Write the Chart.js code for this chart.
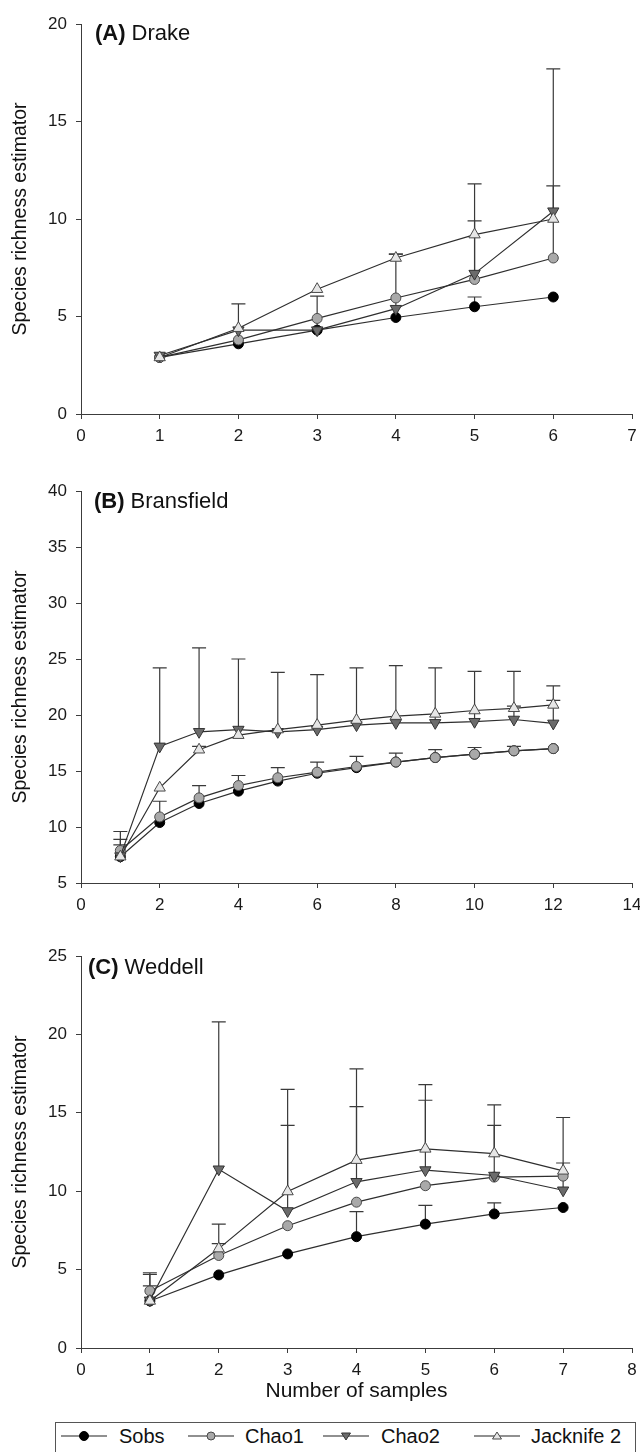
<!DOCTYPE html>
<html>
<head>
<meta charset="utf-8">
<script src="https://cdn.jsdelivr.net/npm/chart.js@4.4.1/dist/chart.umd.min.js"></script>
<style>
  html, body { margin: 0; padding: 0; background: #fff; width: 640px; height: 1452px; overflow: hidden;
    font-family: "Liberation Sans", Arial, sans-serif; color: #111; }
  canvas { position: absolute; left: 0; }
  .tag { position: absolute; font-size: 22px; line-height: 26px; white-space: nowrap; }
  .tag b { margin-right: 6px; }
  #legend { position: absolute; left: 55px; top: 1422px; width: 579px; height: 40px; border: 1px solid #555; }
  .lg-mark { position: absolute; }
  .lg-text { position: absolute; font-size: 20px; line-height: 24px; white-space: nowrap; }
</style>
</head>
<body>
<canvas id="chartA" width="640" height="454" style="top:0px"></canvas>
<canvas id="chartB" width="640" height="456" style="top:467px"></canvas>
<canvas id="chartC" width="640" height="478" style="top:932px"></canvas>
<div class="tag" style="left:95px;top:20px"><b>(A)</b>Drake</div>
<div class="tag" style="left:94px;top:488px"><b>(B)</b>Bransfield</div>
<div class="tag" style="left:88px;top:954px"><b>(C)</b>Weddell</div>
<div id="legend"></div>

<script>
const seriesNames = ["Sobs", "Chao1", "Chao2", "Jacknife 2"];

// (A) Drake
const samplesA = [1, 2, 3, 4, 5, 6];
const sobsA  = [2.9, 3.6, 4.3, 4.95, 5.5, 6.0];
const chao1A = [2.9, 3.8, 4.9, 5.95, 6.9, 8.0];
const chao2A = [3.0, 4.3, 4.3, 5.4, 7.2, 10.4];
const jack2A = [2.9, 4.4, 6.4, 8.0, 9.2, 10.0];
const sobsErrA  = [null, null, null, null, 6.0, null];
const chao1ErrA = [null, null, null, null, 9.9, 11.7];
const chao2ErrA = [null, null, 6.05, 8.2, 11.8, 17.7];
const jack2ErrA = [null, 5.65, null, 8.2, null, null];

// (B) Bransfield
const samplesB = [1, 2, 3, 4, 5, 6, 7, 8, 9, 10, 11, 12];
const sobsB  = [7.35, 10.4, 12.1, 13.2, 14.1, 14.8, 15.3, 15.8, 16.2, 16.5, 16.8, 17.0];
const chao1B = [7.9, 10.9, 12.6, 13.7, 14.4, 14.9, 15.4, 15.8, 16.2, 16.5, 16.8, 17.0];
const chao2B = [7.4, 17.2, 18.5, 18.7, 18.5, 18.7, 19.1, 19.3, 19.3, 19.4, 19.6, 19.25];
const jack2B = [7.35, 13.5, 16.9, 18.2, 18.7, 19.1, 19.55, 19.9, 20.1, 20.4, 20.6, 20.9];
const sobsErrB  = [null, null, null, null, null, null, null, null, null, null, null, null];
const chao1ErrB = [8.9, 12.3, 13.7, 14.6, 15.3, 15.8, 16.3, 16.6, 16.9, 17.1, 17.2, null];
const chao2ErrB = [9.6, 24.2, 26.0, 25.0, 23.8, 23.6, 24.2, 24.4, 24.2, 23.9, 23.9, 22.6];
const jack2ErrB = [8.4, null, 17.2, null, null, null, null, null, null, null, 20.8, 21.3];

// (C) Weddell
const samplesC = [1, 2, 3, 4, 5, 6, 7];
const sobsC  = [3.0, 4.66, 6.0, 7.1, 7.9, 8.55, 8.96];
const chao1C = [3.64, 5.9, 7.8, 9.3, 10.35, 10.9, 10.96];
const chao2C = [3.04, 11.4, 8.74, 10.6, 11.35, 11.0, 10.06];
const jack2C = [3.0, 6.34, 9.98, 11.98, 12.7, 12.4, 11.3];
const sobsErrC  = [null, null, null, 8.7, 9.1, 9.25, null];
const chao1ErrC = [3.96, 6.66, null, null, null, null, null];
const chao2ErrC = [4.8, 20.8, 16.5, 17.8, 16.8, 15.5, 14.7];
const jack2ErrC = [4.7, 7.9, 14.2, 15.4, 15.8, 14.2, 11.8];

// axis ranges
const xMaxA = 7, xStepA = 1, yMinA = 0, yMaxA = 20;
const xMaxB = 14, xStepB = 2, yMinB = 5, yMaxB = 40;
const xMaxC = 8, xStepC = 1, yMinC = 0, yMaxC = 25;
const yStep = 5;

const FONT = "Liberation Sans";
const AXIS = "#3c3c3c";

const markers = [
  { pointStyle: "circle", fill: "#000000", edge: "#000000", radius: 5, rotation: 0 },
  { pointStyle: "circle", fill: "#a9a9a9", edge: "#4a4a4a", radius: 5, rotation: 0 },
  { pointStyle: "triangle", fill: "#6b6b6b", edge: "#333333", radius: 6.5, rotation: 180 },
  { pointStyle: "triangle", fill: "#e6e6e6", edge: "#4a4a4a", radius: 6.5, rotation: 0 }
];

// upper error bars, drawn from each point up to its upper value
const errorBars = {
  id: "errorBars",
  beforeDatasetsDraw(chart) {
    const { ctx } = chart;
    const x = chart.scales.x, y = chart.scales.y;
    ctx.save();
    ctx.strokeStyle = "#3a3a3a";
    ctx.lineWidth = 1.2;
    chart.data.datasets.forEach((ds) => {
      if (!ds.upper) return;
      ds.data.forEach((p, i) => {
        const up = ds.upper[i];
        if (up == null) return;
        const px = x.getPixelForValue(p.x);
        const y0 = y.getPixelForValue(p.y);
        const y1 = y.getPixelForValue(up);
        ctx.beginPath();
        ctx.moveTo(px, y0);
        ctx.lineTo(px, y1);
        ctx.moveTo(px - 7, y1);
        ctx.lineTo(px + 7, y1);
        ctx.stroke();
      });
    });
    ctx.restore();
  }
};

const makeDatasets = (samples, series, errors) =>
  series.map((vals, k) => ({
    label: seriesNames[k],
    data: samples.map((s, i) => ({ x: s, y: vals[i] })),
    upper: errors[k],
    borderColor: "#2e2e2e",
    borderWidth: 1.2,
    tension: 0,
    fill: false,
    pointStyle: markers[k].pointStyle,
    pointRadius: markers[k].radius,
    pointRotation: markers[k].rotation,
    pointBackgroundColor: markers[k].fill,
    pointBorderColor: markers[k].edge,
    pointBorderWidth: 1,
    order: 4 - k
  }));

const drawPanel = (id, samples, series, errors, xMax, xStep, yMin, yMax, padTop, xAxisHeight, xTitle) => {
  new Chart(document.getElementById(id), {
    type: "line",
    data: { datasets: makeDatasets(samples, series, errors) },
    options: {
      responsive: false,
      animation: false,
      events: [],
      layout: { padding: { top: padTop, right: 8, left: 0, bottom: 0 } },
      plugins: { legend: { display: false }, tooltip: { enabled: false } },
      scales: {
        x: {
          type: "linear",
          min: 0,
          max: xMax,
          afterFit: (scale) => {
            scale.height = xAxisHeight;
            scale.paddingLeft = 0;
            scale.paddingRight = 0;
          },
          ticks: { stepSize: xStep, color: "#1a1a1a", padding: 7, font: { family: FONT, size: 17 }, maxRotation: 0 },
          grid: { drawOnChartArea: false, tickLength: 5, color: AXIS },
          border: { color: AXIS, width: 1 },
          title: {
            display: !!xTitle,
            text: xTitle || "",
            color: "#111",
            font: { family: FONT, size: 21 },
            padding: { top: 0, bottom: 6 }
          }
        },
        y: {
          min: yMin,
          max: yMax,
          afterFit: (scale) => { scale.width = 81; },
          ticks: { stepSize: yStep, color: "#1a1a1a", padding: 9, font: { family: FONT, size: 17 } },
          grid: { drawOnChartArea: false, tickLength: 5, color: AXIS },
          border: { color: AXIS, width: 1 },
          title: {
            display: true,
            text: "Species richness estimator",
            color: "#111",
            font: { family: FONT, size: 19.5 },
            padding: { top: 9, bottom: 0 }
          }
        }
      }
    },
    plugins: [errorBars]
  });
};

drawPanel("chartA", samplesA, [sobsA, chao1A, chao2A, jack2A], [sobsErrA, chao1ErrA, chao2ErrA, jack2ErrA],
  xMaxA, xStepA, yMinA, yMaxA, 24, 40);
drawPanel("chartB", samplesB, [sobsB, chao1B, chao2B, jack2B], [sobsErrB, chao1ErrB, chao2ErrB, jack2ErrB],
  xMaxB, xStepB, yMinB, yMaxB, 24, 40);
drawPanel("chartC", samplesC, [sobsC, chao1C, chao2C, jack2C], [sobsErrC, chao1ErrC, chao2ErrC, jack2ErrC],
  xMaxC, xStepC, yMinC, yMaxC, 24, 62, "Number of samples");

// legend: line + marker, then name
const legendSpots = [[5, 63], [132, 189], [267, 325], [418, 475]];
const legend = document.getElementById("legend");
seriesNames.forEach((name, k) => {
  const m = markers[k];
  let shape;
  if (m.pointStyle === "circle") {
    const r = k === 0 ? 4.5 : 4;
    shape = `<circle cx="23" cy="12" r="${r}" fill="${m.fill}" stroke="${m.edge}" stroke-width="1"/>`;
  } else if (m.rotation === 180) {
    shape = `<polygon points="18.5,9 27.5,9 23,16" fill="${m.fill}" stroke="${m.edge}" stroke-width="1"/>`;
  } else {
    shape = `<polygon points="18.5,15 27.5,15 23,8" fill="${m.fill}" stroke="${m.edge}" stroke-width="1"/>`;
  }
  const mark = document.createElement("div");
  mark.className = "lg-mark";
  mark.style.left = legendSpots[k][0] + "px";
  mark.style.top = "1px";
  mark.innerHTML = `<svg width="46" height="24"><line x1="0" y1="12" x2="46" y2="12" stroke="#222" stroke-width="1.2"/>${shape}</svg>`;
  legend.appendChild(mark);
  const txt = document.createElement("div");
  txt.className = "lg-text";
  txt.style.left = legendSpots[k][1] + "px";
  txt.style.top = "1px";
  txt.textContent = name;
  legend.appendChild(txt);
});
</script>
</body>
</html>
